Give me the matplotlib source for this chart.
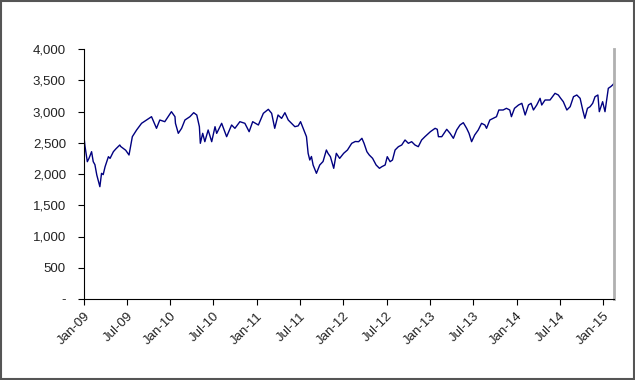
import matplotlib
matplotlib.use("Agg")
import matplotlib.pyplot as plt
import matplotlib.dates as mdates
import matplotlib.ticker as mticker
import numpy as np

# Index level (approximate, irregular sampling)
dates = [
    "2009-01-02", "2009-01-05", "2009-01-15", "2009-01-22", "2009-02-02", "2009-02-09",
    "2009-02-16", "2009-02-24", "2009-03-02", "2009-03-09", "2009-03-16", "2009-03-23",
    "2009-03-31", "2009-04-14", "2009-04-21", "2009-05-05", "2009-05-15", "2009-06-01",
    "2009-06-05", "2009-06-15", "2009-06-26", "2009-07-10", "2009-07-24", "2009-08-11",
    "2009-09-01", "2009-09-22", "2009-10-13", "2009-11-03", "2009-11-17", "2009-12-08",
    "2010-01-05", "2010-01-20", "2010-01-22", "2010-02-03", "2010-02-17", "2010-03-03",
    "2010-03-24", "2010-04-09", "2010-04-22", "2010-05-03", "2010-05-07", "2010-05-17",
    "2010-05-26", "2010-06-09", "2010-06-24", "2010-07-08", "2010-07-15", "2010-08-05",
    "2010-08-26", "2010-09-16", "2010-09-30", "2010-10-21", "2010-11-11", "2010-11-29",
    "2010-12-14", "2011-01-07", "2011-01-28", "2011-02-18", "2011-03-04", "2011-03-17",
    "2011-03-31", "2011-04-15", "2011-04-29", "2011-05-13", "2011-05-27", "2011-06-10",
    "2011-06-24", "2011-07-04", "2011-07-15", "2011-07-29", "2011-08-05", "2011-08-12",
    "2011-08-19", "2011-08-26", "2011-09-09", "2011-09-23", "2011-10-07", "2011-10-21",
    "2011-10-28", "2011-11-07", "2011-11-21", "2011-12-02", "2011-12-16", "2012-01-02",
    "2012-01-18", "2012-02-05", "2012-02-20", "2012-03-05", "2012-03-19", "2012-03-28",
    "2012-04-09", "2012-04-19", "2012-05-03", "2012-05-18", "2012-06-01", "2012-06-11",
    "2012-06-25", "2012-07-04", "2012-07-16", "2012-07-26", "2012-08-06", "2012-08-20",
    "2012-09-03", "2012-09-17", "2012-10-01", "2012-10-15", "2012-10-29", "2012-11-12",
    "2012-11-26", "2012-12-10", "2013-01-02", "2013-01-22", "2013-01-31", "2013-02-05",
    "2013-02-19", "2013-03-05", "2013-03-12", "2013-03-26", "2013-04-09", "2013-04-23",
    "2013-05-07", "2013-05-21", "2013-06-04", "2013-06-14", "2013-06-25", "2013-07-08",
    "2013-07-23", "2013-08-06", "2013-08-20", "2013-08-27", "2013-09-10", "2013-09-24",
    "2013-10-08", "2013-10-18", "2013-11-05", "2013-11-19", "2013-12-03", "2013-12-10",
    "2013-12-23", "2014-01-09", "2014-01-23", "2014-02-06", "2014-02-20", "2014-03-03",
    "2014-03-13", "2014-03-27", "2014-04-10", "2014-04-17", "2014-05-01", "2014-05-22",
    "2014-06-12", "2014-06-26", "2014-07-06", "2014-07-17", "2014-08-01", "2014-08-15",
    "2014-08-29", "2014-09-12", "2014-09-26", "2014-10-07", "2014-10-16", "2014-10-27",
    "2014-11-07", "2014-11-18", "2014-11-28", "2014-12-10", "2014-12-16", "2014-12-30",
    "2015-01-09", "2015-01-16", "2015-01-23", "2015-02-02", "2015-02-10", "2015-02-16",
]
values = [
    2560, 2450, 2197, 2250, 2357, 2197,
    2150, 1984, 1900, 1797, 2011, 1990,
    2117, 2277, 2250, 2357, 2400, 2464,
    2440, 2411, 2380, 2304, 2597, 2704,
    2811, 2864, 2917, 2731, 2864, 2837,
    2997, 2917, 2811, 2651, 2731, 2864,
    2917, 2981, 2944, 2757, 2491, 2651,
    2517, 2704, 2517, 2757, 2650, 2811,
    2597, 2784, 2731, 2837, 2811, 2677,
    2837, 2784, 2971, 3035, 2971, 2731,
    2944, 2890, 2981, 2864, 2811, 2757,
    2770, 2837, 2731, 2597, 2331, 2224,
    2280, 2144, 2011, 2144, 2200, 2384,
    2330, 2277, 2091, 2331, 2250, 2331,
    2384, 2491, 2520, 2517, 2571, 2491,
    2357, 2304, 2251, 2144, 2091, 2117,
    2144, 2277, 2197, 2224, 2384, 2437,
    2464, 2544, 2491, 2517, 2464, 2437,
    2544, 2597, 2677, 2731, 2715, 2597,
    2597, 2677, 2715, 2651, 2571, 2704,
    2784, 2821, 2731, 2651, 2517, 2624,
    2704, 2811, 2784, 2731, 2864, 2891,
    2917, 3024, 3024, 3051, 3024, 2917,
    3051, 3104, 3131, 2944, 3104, 3131,
    3024, 3104, 3211, 3104, 3184, 3184,
    3291, 3264, 3211, 3157, 3024, 3077,
    3237, 3264, 3211, 3024, 2891, 3051,
    3077, 3131, 3237, 3264, 2997, 3157,
    2997, 3184, 3371, 3397, 3424, 3450,
]

y_ticks = [0, 500, 1000, 1500, 2000, 2500, 3000, 3500, 4000]

plt.rcParams["font.family"] = ["Liberation Sans", "DejaVu Sans"]

x = np.array(dates, dtype="datetime64[D]")

fig = plt.figure(figsize=(6.35, 3.8), dpi=100)
ax = fig.add_axes([84 / 635, 1 - 299 / 380, (614 - 84) / 635, (299 - 49) / 380])

ax.plot(x, values, color="#000080", linewidth=1.0)

ax.set_xlim(np.datetime64("2009-01-01"), x[-1])
ax.set_ylim(0, 4000)
ax.set_yticks(y_ticks)
ax.yaxis.set_major_formatter(
    mticker.FuncFormatter(lambda v, pos: "-" if v == 0 else f"{int(v):,}"))

ax.xaxis.set_major_locator(mdates.MonthLocator(bymonth=[1, 7]))
ax.xaxis.set_major_formatter(mdates.DateFormatter("%b-%y"))
for lbl in ax.get_xticklabels():
    lbl.set_rotation(45)
    lbl.set_ha("right")
    lbl.set_rotation_mode("anchor")

ax.tick_params(axis="both", labelsize=9.5, colors="#000000", labelcolor="#222222",
               length=4, width=0.8, direction="out")
ax.tick_params(axis="x", pad=4)
ax.tick_params(axis="y", pad=9)

ax.spines["top"].set_visible(False)
ax.spines["right"].set_color("#b0b0b0")
ax.spines["right"].set_linewidth(2)
ax.spines["left"].set_linewidth(0.8)
ax.spines["bottom"].set_linewidth(0.8)

# outer frame of the chart
fig.patches.append(plt.Rectangle((0.0015, 0.0025), 0.997, 0.995, transform=fig.transFigure,
                                 fill=False, edgecolor="#555555", linewidth=1.5))

fig.savefig("out.png", dpi=100)
